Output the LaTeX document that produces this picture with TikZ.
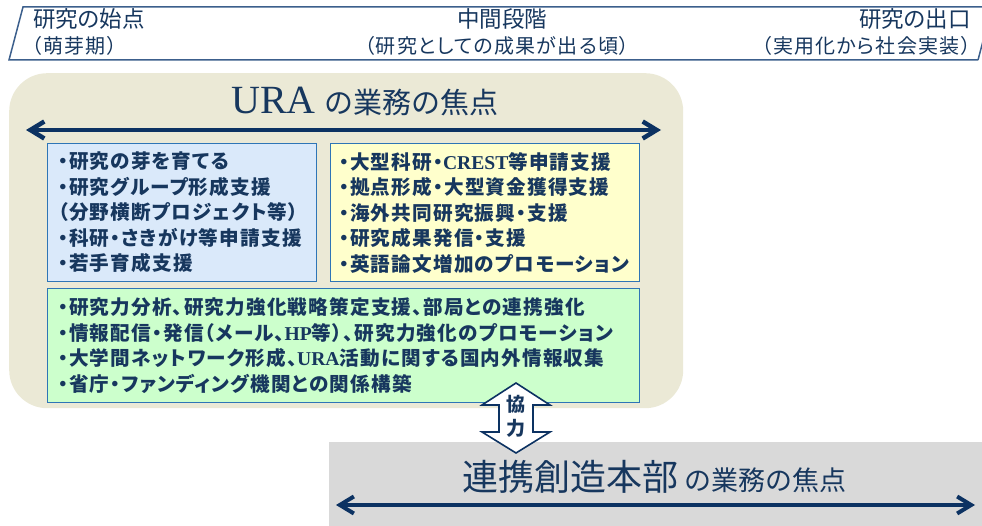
\documentclass[tikz,border=0pt]{standalone}
\usepackage{fontspec}
\usetikzlibrary{arrows.meta}
\newfontfamily\jp[RawFeature=+palt]{Noto Sans CJK JP}
\newfontfamily\jpsp[RawFeature=+palt,LetterSpace=6]{Noto Sans CJK JP}
\newfontfamily\jpfull{Noto Sans CJK JP}
\newfontfamily\lat{Liberation Serif}
\definecolor{navy}{RGB}{23,55,94}
\definecolor{arrowc}{RGB}{12,50,98}
\definecolor{hdrc}{RGB}{60,95,140}
\definecolor{beige}{RGB}{235,233,214}
\definecolor{bluef}{RGB}{218,233,250}
\definecolor{yelf}{RGB}{255,255,204}
\definecolor{grnf}{RGB}{204,255,204}
\definecolor{bord}{RGB}{46,117,182}
\definecolor{grayf}{RGB}{217,217,217}
\tikzset{
  hdrline/.style={draw=hdrc, line width=1.5pt},
  hdrone/.style={text=navy, inner sep=0pt, font={\jp\fontsize{22.5}{22.5}\selectfont}},
  hdrtwo/.style={text=navy, inner sep=0pt, font={\jpsp\fontsize{20}{20}\selectfont}},
  panel/.style={draw=bord, line width=1.3pt, anchor=north west, inner sep=0pt},
  listtext/.style={text=navy, inner sep=0pt, anchor=west, align=left,
    font={\jpsp\bfseries\fontsize{19.6}{25.5}\selectfont}},
  focusarrow/.style={draw=arrowc, line width=4.5pt,
    {Straight Barb[length=14pt,width=17pt]}-{Straight Barb[length=14pt,width=17pt]}},
  coop/.style={draw=arrowc, line width=1.6pt, fill=white, line join=miter},
}
\begin{document}
\begin{tikzpicture}[x=1pt,y=-1pt]
\useasboundingbox (0,0) rectangle (982,526);
\clip (0,0) rectangle (982,526);
% header band
\draw[hdrline] (978,60) -- (9,60) -- (23,7) -- (995,7);
\draw[hdrline] (978,60) -- (992,7);
\node[hdrone, anchor=base west] (h1l) at (33,28) {研究の始点};
\node[hdrtwo, anchor=base west] (h2l) at (32,54) {（萌芽期）};
\node[hdrone, anchor=base] (h1m) at (502,28) {中間段階};
\node[hdrtwo, anchor=base] (h2m) at (497,54) {（研究としての成果が出る頃）};
\node[hdrone, anchor=base east] (h1r) at (971,28) {研究の出口};
\node[hdrtwo, anchor=base east] (h2r) at (971,54) {（実用化から社会実装）};
% URA area
\node[fill=beige, rounded corners=38pt, anchor=north west, inner sep=0pt,
  minimum width=674pt, minimum height=335pt] (ura) at (9,73) {};
\node[anchor=base, text=navy, inner sep=0pt] (uratitle) at (365,114)
  {{\lat\fontsize{40}{40}\selectfont URA}\hspace{9pt}{\jpfull\fontsize{29}{29}\selectfont の業務の焦点}};
\coordinate (uraL) at (26,130);
\coordinate (uraR) at (661,130);
\draw[focusarrow] (uraL) -- (uraR);
\node[panel, fill=bluef, minimum width=269pt, minimum height=138pt] (bluebox) at (47,143) {};
\node[panel, fill=yelf, minimum width=309pt, minimum height=138pt] (yelbox) at (330,143) {};
\node[panel, fill=grnf, minimum width=592pt, minimum height=114pt] (grnbox) at (47,288) {};
\node[listtext] (bluetext) at (58,212.5)
  {・研究の芽を育てる\\・研究グループ形成支援\\（分野横断プロジェクト等）\\・科研・さきがけ等申請支援\\・若手育成支援};
\node[listtext] (yeltext) at (339,212.5)
  {・大型科研・{\lat CREST}等申請支援\\・拠点形成・大型資金獲得支援\\・海外共同研究振興・支援\\・研究成果発信・支援\\・英語論文増加のプロモーション};
\node[listtext] (grntext) at (58,345.5)
  {・研究力分析、研究力強化戦略策定支援、部局との連携強化\\・情報配信・発信（メール、{\lat HP}等）、研究力強化のプロモーション\\・大学間ネットワーク形成、{\lat URA}活動に関する国内外情報収集\\・省庁・ファンディング機関との関係構築};
% 連携創造本部 area
\node[fill=grayf, anchor=north west, inner sep=0pt,
  minimum width=660pt, minimum height=90pt] (honbu) at (329,442) {};
\node[anchor=base, text=navy, inner sep=0pt] (honbutitle) at (654,490)
  {{\jpfull\fontsize{36}{36}\selectfont 連携創造本部}\hspace{6pt}{\jpfull\fontsize{27}{27}\selectfont の業務の焦点}};
\coordinate (honL) at (336,505);
\coordinate (honR) at (975,505);
\draw[focusarrow, line width=4pt] (honL) -- (honR);
% cooperation arrow
\draw[coop] (516,383) -- (550,405) -- (533,405) -- (533,432) -- (550,432) -- (516,453)
  -- (482,432) -- (499,432) -- (499,405) -- (482,405) -- cycle;
\node[text=navy, inner sep=0pt, align=center, font={\jpfull\bfseries\fontsize{19}{24}\selectfont}] (kyoryoku) at (516,416) {協\\力};
\end{tikzpicture}
\end{document}
